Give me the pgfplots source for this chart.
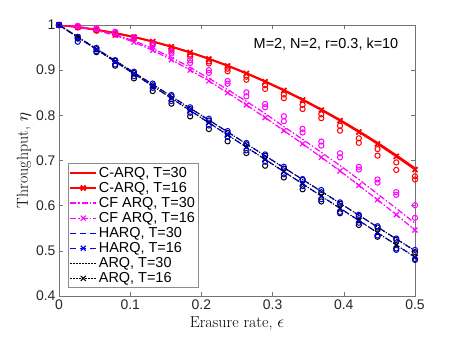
\documentclass[border=0pt]{standalone}
\usepackage{fontspec}
\setsansfont{Liberation Sans}
\usepackage{pgfplots}
\usepackage{pgfplotstable}
\pgfplotsset{compat=1.18}
\definecolor{mred}{rgb}{1,0,0}
\definecolor{mmag}{rgb}{1,0,1}
\definecolor{mblue}{rgb}{0,0,1}

% x, lines (C-ARQ, CF ARQ, HARQ, ARQ for T=30/16), then simulated points (circles)
\pgfplotstableread{
x      c30    c16    f30   f16   h30    h16    a30    a16    cA     cB     fA    fB    hA     hB     aA     aB
0      1      1      1     1     1      1      1      1      1      1      1     1     1      1      1      1
0.0263 0.9954 0.9954 0.997 0.996 0.9737 0.9729 0.9737 0.9729 0.9954 0.9944 0.998 0.997 0.9737 0.9629 0.9717 0.9699
0.0526 0.9894 0.9894 0.990 0.988 0.9474 0.9459 0.9474 0.9459 0.9884 0.9874 0.993 0.991 0.9494 0.9419 0.9464 0.9399
0.0789 0.9822 0.9821 0.979 0.977 0.9211 0.9188 0.9211 0.9188 0.9802 0.9791 0.985 0.982 0.9221 0.9128 0.9211 0.9098
0.1053 0.9735 0.9734 0.965 0.962 0.8947 0.8918 0.8947 0.8918 0.9715 0.9694 0.973 0.970 0.8967 0.8868 0.8937 0.8818
0.1316 0.9635 0.9633 0.948 0.944 0.8684 0.8647 0.8684 0.8647 0.9605 0.9573 0.958 0.955 0.8704 0.8607 0.8664 0.8537
0.1579 0.9522 0.9519 0.928 0.923 0.8421 0.8377 0.8421 0.8377 0.9482 0.9449 0.941 0.937 0.8451 0.8317 0.8421 0.8257
0.1842 0.9395 0.9391 0.906 0.900 0.8158 0.8106 0.8158 0.8106 0.9345 0.9301 0.922 0.916 0.8178 0.8056 0.8138 0.7976
0.2105 0.9255 0.9250 0.882 0.876 0.7895 0.7836 0.7895 0.7836 0.9195 0.9150 0.900 0.894 0.7925 0.7776 0.7885 0.7696
0.2368 0.9102 0.9095 0.857 0.850 0.7632 0.7565 0.7632 0.7565 0.9032 0.8975 0.876 0.870 0.7652 0.7525 0.7612 0.7425
0.2632 0.8935 0.8927 0.831 0.823 0.7368 0.7295 0.7368 0.7295 0.8855 0.8787 0.851 0.842 0.7388 0.7225 0.7358 0.7165
0.2895 0.8755 0.8745 0.804 0.795 0.7105 0.7024 0.7105 0.7024 0.8665 0.8585 0.825 0.818 0.7135 0.6974 0.7105 0.6884
0.3158 0.8561 0.8549 0.775 0.766 0.6842 0.6754 0.6842 0.6754 0.8461 0.8379 0.798 0.787 0.6862 0.6694 0.6822 0.6624
0.3421 0.8354 0.8340 0.747 0.737 0.6579 0.6483 0.6579 0.6483 0.8234 0.8140 0.770 0.762 0.6589 0.6433 0.6569 0.6363
0.3684 0.8133 0.8117 0.718 0.707 0.6316 0.6213 0.6316 0.6213 0.8023 0.7937 0.742 0.733 0.6346 0.6143 0.6296 0.6093
0.3947 0.7900 0.7881 0.689 0.677 0.6053 0.5942 0.6053 0.5942 0.7770 0.7661 0.716 0.707 0.6073 0.5862 0.6043 0.5832
0.4211 0.7652 0.7631 0.658 0.645 0.5789 0.5672 0.5789 0.5672 0.7492 0.7391 0.686 0.680 0.5799 0.5622 0.5769 0.5572
0.4474 0.7392 0.7368 0.626 0.613 0.5526 0.5401 0.5526 0.5401 0.7252 0.7108 0.658 0.651 0.5546 0.5341 0.5516 0.5311
0.4737 0.7118 0.7091 0.594 0.580 0.5263 0.5131 0.5263 0.5131 0.6958 0.6791 0.630 0.624 0.5273 0.5021 0.5243 0.5051
0.5    0.6830 0.6800 0.561 0.546 0.5000 0.4860 0.5000 0.4860 0.6650 0.6580 0.601 0.573 0.5020 0.4820 0.4970 0.4800
}\thr

\begin{document}
\begin{tikzpicture}
\begin{axis}[
    name=ax,
    scale only axis,
    width=356bp,
    height=271bp,
    xmin=0, xmax=0.5,
    ymin=0.4, ymax=1,
    xtick={0,0.1,...,0.5},
    ytick={0.4,0.5,...,1},
    tick align=inside,
    major tick length=4bp,
    axis line style={black!55},
    every tick/.style={black!55},
    tick label style={font=\sffamily\fontsize{14}{16}\selectfont, black!85},
    /pgf/number format/assume math mode=true,
    xlabel={Erasure rate, $\epsilon$},
    ylabel={Throughput, $\eta$},
    label style={font=\fontsize{16}{18}\selectfont},
    ylabel style={yshift=-2bp},
    legend cell align=left,
    legend style={at={(0.025,0.03)}, anchor=south west, draw=black!45,
        font=\sffamily\fontsize{14.5}{15}\selectfont, inner sep=1.5pt,
        row sep=-0.5pt},
    legend image code/.code={\draw[mark repeat=2,mark phase=2,#1]
        plot coordinates {(0cm,0cm) (0.45cm,0cm) (0.9cm,0cm)};},
    mark options={solid},
]
\addplot[mred, line width=1.8bp] table[y=c30] {\thr};
\addlegendentry{C-ARQ, T=30}
\addplot[mred, line width=1.8bp, mark=x, mark size=3.5bp] table[y=c16] {\thr};
\addlegendentry{C-ARQ, T=16}
\addplot[mmag, line width=1.2bp, dash pattern=on 6bp off 2bp on 1.5bp off 2bp] table[y=f30] {\thr};
\addlegendentry{CF ARQ, T=30}
\addplot[mmag, line width=1.2bp, dash pattern=on 6bp off 2bp on 1.5bp off 2bp, mark=x, mark size=3.5bp] table[y=f16] {\thr};
\addlegendentry{CF ARQ, T=16}
\addplot[mblue, line width=1.2bp, dash pattern=on 6bp off 4bp] table[y=h30] {\thr};
\addlegendentry{HARQ, T=30}
\addplot[mblue, line width=1.2bp, dash pattern=on 6bp off 4bp, mark=x, mark size=3.5bp] table[y=h16] {\thr};
\addlegendentry{HARQ, T=16}
\addplot[black, line width=1.1bp, dash pattern=on 1.2bp off 1.8bp] table[y=a30] {\thr};
\addlegendentry{ARQ, T=30}
\addplot[black, line width=1.1bp, dash pattern=on 1.2bp off 1.8bp, mark=x, mark size=3.5bp] table[y=a16] {\thr};
\addlegendentry{ARQ, T=16}
% simulated points
\addplot[forget plot, only marks, mred, mark=o, mark size=2.6bp, line width=1bp] table[y=cA] {\thr};
\addplot[forget plot, only marks, mred, mark=o, mark size=2.6bp, line width=1bp] table[y=cB] {\thr};
\addplot[forget plot, only marks, mmag, mark=o, mark size=2.6bp, line width=1bp] table[y=fA] {\thr};
\addplot[forget plot, only marks, mmag, mark=o, mark size=2.6bp, line width=1bp] table[y=fB] {\thr};
\addplot[forget plot, only marks, black, mark=o, mark size=2.6bp, line width=1bp] table[y=aA] {\thr};
\addplot[forget plot, only marks, black, mark=o, mark size=2.6bp, line width=1bp] table[y=aB] {\thr};
\addplot[forget plot, only marks, mblue, mark=o, mark size=2.6bp, line width=1bp] table[y=hA] {\thr};
\addplot[forget plot, only marks, mblue, mark=o, mark size=2.6bp, line width=1bp] table[y=hB] {\thr};
\node[font=\sffamily\fontsize{14.5}{16}\selectfont] at (axis cs:0.375,0.9575) {M=2, N=2, r=0.3, k=10};
\end{axis}
\path (ax.south west) ++(-59bp,-48bp) rectangle ++(459bp,344bp);
\end{tikzpicture}
\end{document}
